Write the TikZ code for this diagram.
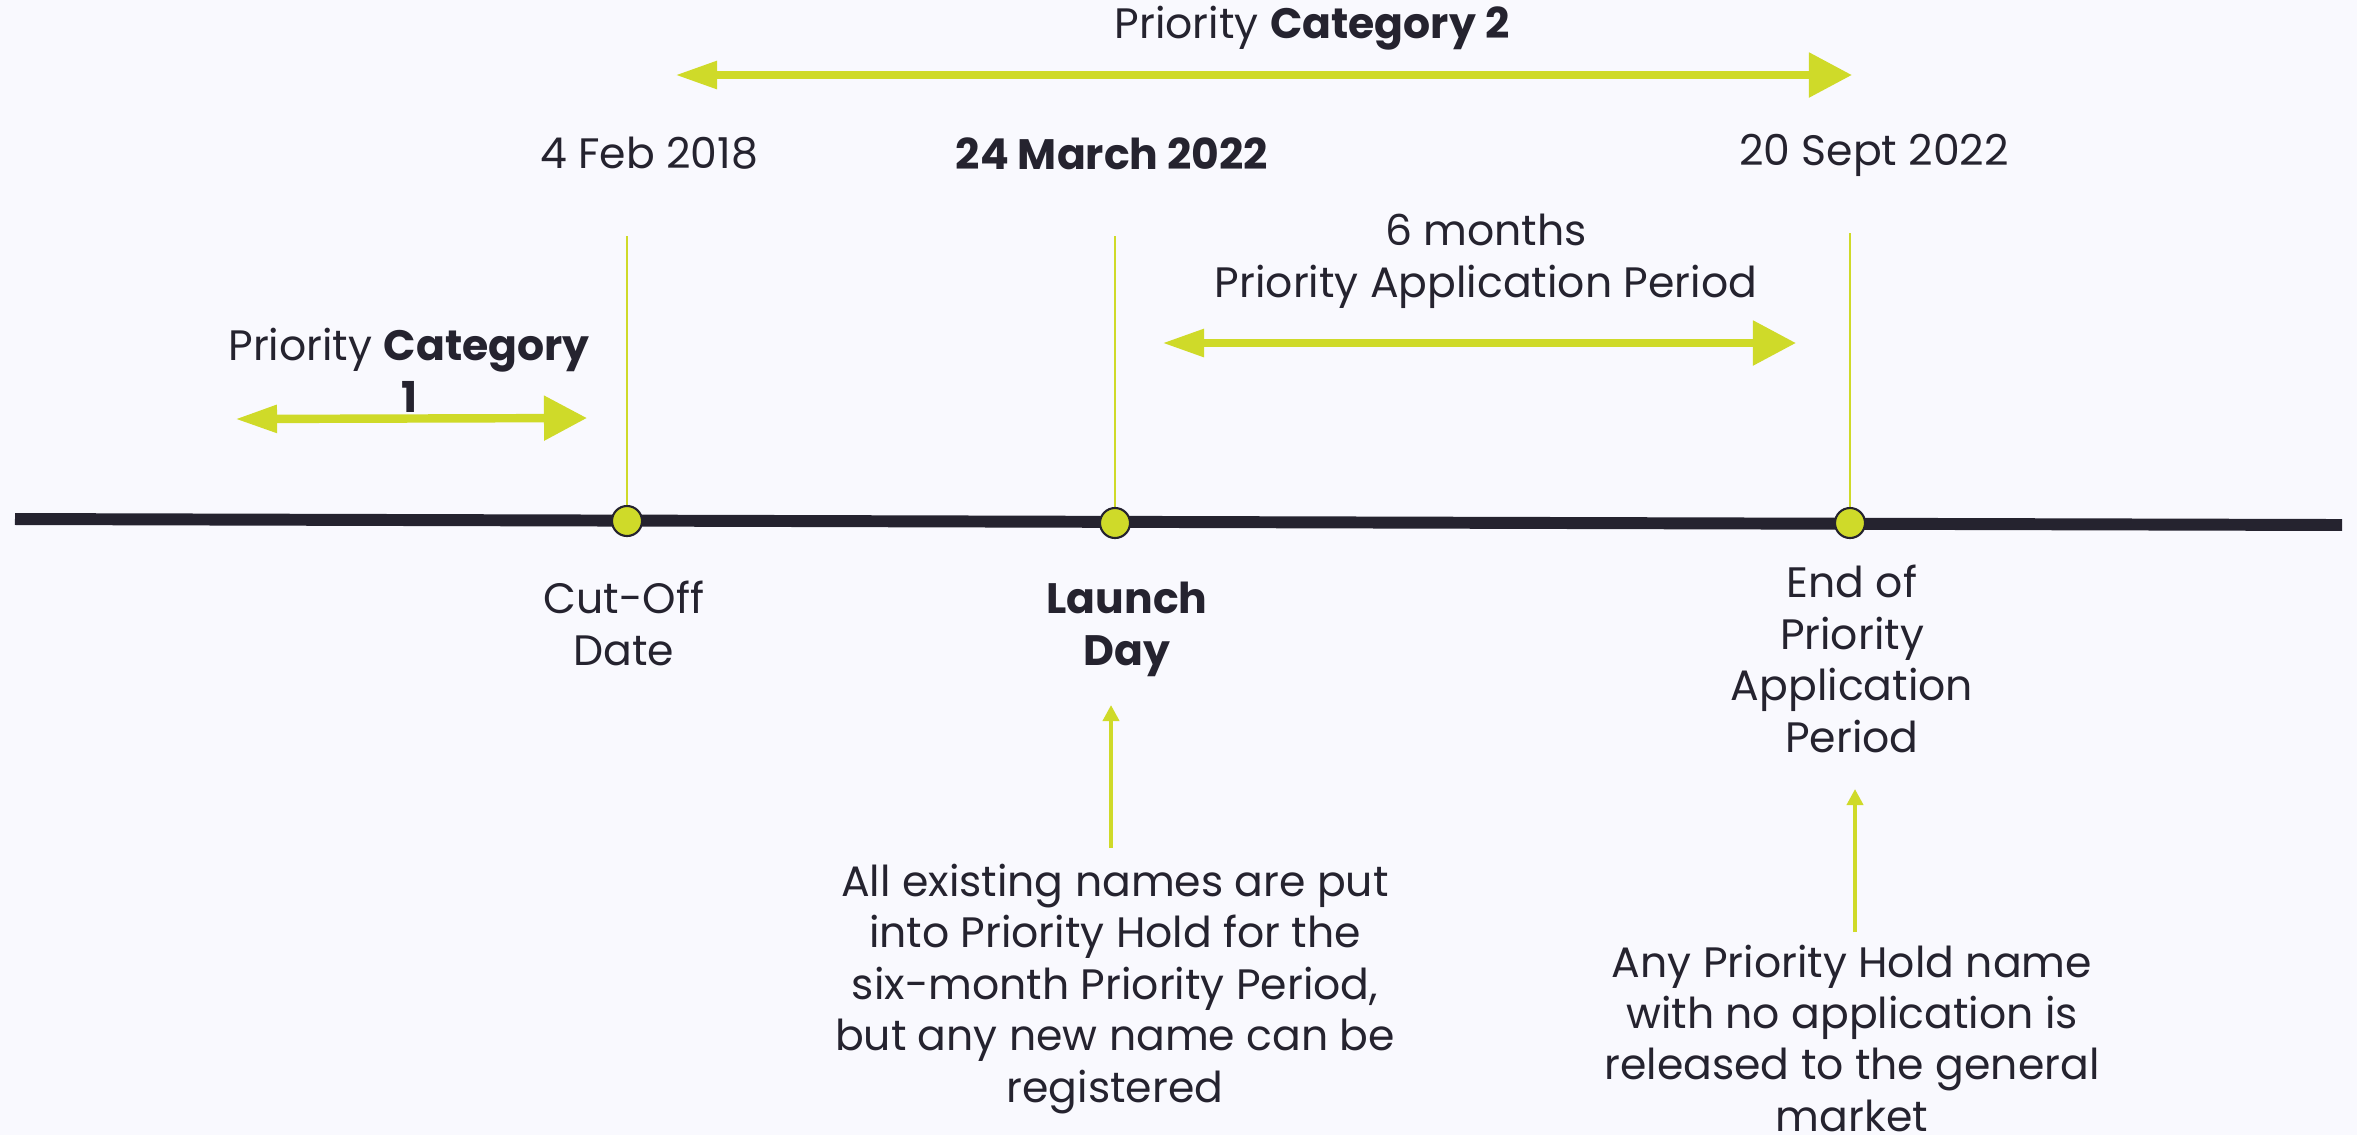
\documentclass[tikz,border=0pt]{standalone}
\usepackage{fontspec}
\setmainfont{Poppins}
\usetikzlibrary{arrows.meta}
\definecolor{lime}{HTML}{CFDA29}
\definecolor{ink}{HTML}{25232F}
\definecolor{paper}{HTML}{F9F9FE}
\begin{document}
\begin{tikzpicture}[x=0.01cm, y=-0.01cm, line join=round, text=ink,
  font=\fontsize{12.1}{14.6}\selectfont,
  txt/.style={align=center, inner sep=0pt, anchor=base},
  span/.style={lime, line width=2.4pt,
    {Triangle[length=4.2mm,width=2.6mm]}-{Triangle[length=4.3mm,width=4.3mm]}},
  up/.style={lime, line width=1.1pt, -{Triangle[length=1.6mm,width=1.6mm]}},
  tick/.style={lime, line width=0.6pt},
  dot/.style={circle, fill=lime, draw=ink, line width=0.6pt, minimum size=0.3cm, inner sep=0pt}]
  \useasboundingbox (0,0) rectangle (2357,1135);
  \clip (0,0) rectangle (2357,1135);
  \fill[paper] (0,0) rectangle (2357,1135);
  % points on the time line
  \coordinate (west) at (15,519);
  \coordinate (east) at (2342,525);
  \coordinate (cutoff) at (627,521);
  \coordinate (launch) at (1115,523);
  \coordinate (endp) at (1850,523);
  \coordinate (cutoff top) at (627,236);
  \coordinate (launch top) at (1115,236);
  \coordinate (endp top) at (1850,233);
  \draw[tick] (cutoff top)--(cutoff) (launch top)--(launch) (endp top)--(endp);
  \draw[ink, line width=3.4pt] (west)--(east);
  \node[dot] (cutoff dot) at (cutoff) {};
  \node[dot] (launch dot) at (launch) {};
  \node[dot] (endp dot) at (endp) {};
  % periods
  \coordinate (cat2 w) at (675,75);
  \coordinate (cat2 e) at (1852,75);
  \coordinate (cat1 w) at (235,419);
  \coordinate (cat1 e) at (587,418);
  \coordinate (six w) at (1162,343);
  \coordinate (six e) at (1796,343);
  \draw[span] (cat2 w)--(cat2 e);
  \draw[span] (cat1 w)--(cat1 e);
  \draw[span] (six w)--(six e);
  % labels (base = last line)
  \node[txt] (title) at (1312,38) {Priority \textbf{Category 2}};
  \node[txt] (date cutoff) at (649,168) {4 Feb 2018};
  \node[txt] (date launch) at (1112,169) {\textbf{24 March 2022}};
  \node[txt] (date end) at (1874,165) {20 Sept 2022};
  \node[txt] (period) at (1486,297) {6 months\\Priority Application Period};
  \node[txt] (cat1) at (409,412) {Priority \textbf{Category}\\\textbf{1}};
  \node[txt] (lbl cutoff) at (624,665) {Cut-Off\\Date};
  \node[txt] (lbl launch) at (1127,665) {\textbf{Launch}\\\textbf{Day}};
  \node[txt] (lbl end) at (1852,752) {End of\\Priority\\Application\\Period};
  \node[txt] (note launch) at (1115,1102) {All existing names are put\\into Priority Hold for the\\six-month Priority Period,\\but any new name can be\\registered};
  \node[txt] (note end) at (1852,1131) {Any Priority Hold name\\with no application is\\released to the general\\market};
  % notes
  \coordinate (launch foot) at (1111,848);
  \coordinate (launch tip) at (1111,705);
  \coordinate (endp foot) at (1855,932);
  \coordinate (endp tip) at (1855,789);
  \draw[up] (launch foot)--(launch tip);
  \draw[up] (endp foot)--(endp tip);
\end{tikzpicture}
\end{document}
